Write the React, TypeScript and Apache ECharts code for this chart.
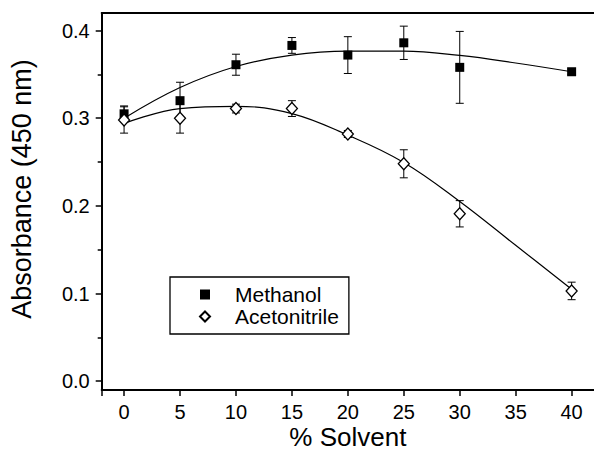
import React, { useEffect, useRef } from "react";
import * as echarts from "echarts";

const X_PTS = [0, 5, 10, 15, 20, 25, 30, 40];
const METHANOL = [0.305, 0.32, 0.361, 0.383, 0.372, 0.386, 0.358, 0.353];
const METHANOL_ERR = [0.009, 0.021, 0.012, 0.009, 0.021, 0.019, 0.041, 0.003];
const ACETONITRILE = [0.298, 0.3, 0.311, 0.311, 0.282, 0.248, 0.191, 0.103];
const ACETONITRILE_ERR = [0.015, 0.017, 0.005, 0.009, 0.004, 0.016, 0.015, 0.01];

const X_FIT = [0, 5, 10, 15, 20, 25, 30, 35, 40];
const METHANOL_FIT = [0.3, 0.335, 0.359, 0.372, 0.3765, 0.3765, 0.3716, 0.363, 0.353];
const ACETONITRILE_FIT = [0.294, 0.311, 0.3136, 0.3053, 0.2807, 0.2495, 0.205, 0.155, 0.105];

const X_TICKS = [0, 5, 10, 15, 20, 25, 30, 35, 40];
const X_TICK_MARKS = [-2, 0, 5, 10, 15, 20, 25, 30, 35, 40];
const Y_TICKS = [0, 0.1, 0.2, 0.3, 0.4];
const Y_MINOR = [0.05, 0.15, 0.25, 0.35];

const FONT = "'Liberation Sans', Arial, sans-serif";

function errorBars(vals: number[], errs: number[]) {
  return X_PTS.map((x, i) => [x, vals[i] - errs[i], vals[i] + errs[i]]);
}

function renderErr(_params: any, api: any) {
  const x = api.value(0);
  const lo = api.coord([x, api.value(1)]);
  const hi = api.coord([x, api.value(2)]);
  const w = 4;
  const style = { stroke: "#000", lineWidth: 1 };
  return {
    type: "group",
    children: [
      { type: "line", shape: { x1: lo[0], y1: lo[1], x2: hi[0], y2: hi[1] }, style },
      { type: "line", shape: { x1: lo[0] - w, y1: lo[1], x2: lo[0] + w, y2: lo[1] }, style },
      { type: "line", shape: { x1: hi[0] - w, y1: hi[1], x2: hi[0] + w, y2: hi[1] }, style },
    ],
  };
}

export default function App() {
  const ref = useRef<HTMLDivElement>(null);
  useEffect(() => {
    document.body.style.margin = "0";
    const chart = echarts.init(ref.current!, undefined, { renderer: "svg" });
    const axisLineStyle = { color: "#000", width: 2 };
    chart.setOption({
      animation: false,
      backgroundColor: "#fff",
      textStyle: { fontFamily: FONT, color: "#000" },
      grid: { left: 101.7, right: 0, top: 13, bottom: 63, containLabel: false, outerBoundsMode: "none" },
      legend: {
        data: ["Methanol", "Acetonitrile"],
        orient: "vertical",
        left: 170,
        top: 277,
        padding: [7, 10, 7, 29],
        itemWidth: 10,
        itemHeight: 10,
        itemGap: 1,
        borderColor: "#000",
        borderWidth: 1.3,
        borderRadius: 0,
        textStyle: { fontSize: 21, fontFamily: FONT, color: "#000", lineHeight: 21, padding: [0, 0, 0, 20] },
      },
      xAxis: [
        {
          type: "value",
          min: -2,
          max: 42,
          position: "bottom",
          axisLine: { show: true, onZero: false, lineStyle: axisLineStyle },
          axisTick: { show: true, customValues: X_TICK_MARKS, length: 6, lineStyle: { color: "#000", width: 1.5 } },
          axisLabel: { customValues: X_TICKS, fontSize: 20, color: "#000", margin: 12, fontFamily: FONT },
          splitLine: { show: false },
          name: "% Solvent",
          nameLocation: "middle",
          nameGap: 36,
          nameMoveOverlap: false,
          nameTextStyle: { fontSize: 26, lineHeight: 22, color: "#000", fontFamily: FONT },
        },
        {
          type: "value",
          min: -2,
          max: 42,
          position: "top",
          axisLine: { show: true, onZero: false, lineStyle: axisLineStyle },
          axisTick: { show: false },
          axisLabel: { show: false },
          splitLine: { show: false },
        },
      ],
      yAxis: [
        {
          type: "value",
          min: -0.01,
          max: 0.42,
          position: "left",
          axisLine: { show: true, onZero: false, lineStyle: axisLineStyle },
          axisTick: { show: true, customValues: Y_TICKS, length: 6, lineStyle: { color: "#000", width: 1.5 } },
          axisLabel: {
            customValues: Y_TICKS,
            fontSize: 20,
            color: "#000",
            margin: 12,
            fontFamily: FONT,
            formatter: (v: number) => v.toFixed(1),
          },
          splitLine: { show: false },
          name: "Absorbance (450 nm)",
          nameLocation: "middle",
          nameGap: 66,
          nameMoveOverlap: false,
          nameTextStyle: { fontSize: 27, color: "#000", fontFamily: FONT, padding: [0, 0, 0, 25] },
        },
        {
          type: "value",
          min: -0.01,
          max: 0.42,
          position: "left",
          axisLine: { show: false, onZero: false },
          axisTick: { show: true, customValues: Y_MINOR, length: 4, lineStyle: { color: "#000", width: 1.5 } },
          axisLabel: { show: false },
          splitLine: { show: false },
        },
      ],
      series: [
        {
          name: "Methanol fit",
          type: "line",
          data: X_FIT.map((x, i) => [x, METHANOL_FIT[i]]),
          showSymbol: false,
          smooth: 0.4,
          lineStyle: { color: "#000", width: 1.2 },
          z: 1,
        },
        {
          name: "Acetonitrile fit",
          type: "line",
          data: X_FIT.map((x, i) => [x, ACETONITRILE_FIT[i]]),
          showSymbol: false,
          smooth: 0.4,
          lineStyle: { color: "#000", width: 1.2 },
          z: 1,
        },
        {
          name: "Methanol err",
          type: "custom",
          renderItem: renderErr,
          data: errorBars(METHANOL, METHANOL_ERR),
          encode: { x: 0, y: [1, 2] },
          z: 2,
        },
        {
          name: "Acetonitrile err",
          type: "custom",
          renderItem: renderErr,
          data: errorBars(ACETONITRILE, ACETONITRILE_ERR),
          encode: { x: 0, y: [1, 2] },
          z: 2,
        },
        {
          name: "Methanol",
          type: "scatter",
          data: X_PTS.map((x, i) => [x, METHANOL[i]]),
          symbol: "rect",
          symbolSize: 9,
          itemStyle: { color: "#000", opacity: 1 },
          z: 3,
        },
        {
          name: "Acetonitrile",
          type: "scatter",
          data: X_PTS.map((x, i) => [x, ACETONITRILE[i]]),
          symbol: "diamond",
          symbolSize: [11, 12],
          itemStyle: { color: "#fff", borderColor: "#000", borderWidth: 1.3, opacity: 1 },
          z: 4,
        },
      ],
    });
    return () => chart.dispose();
  }, []);
  return <div ref={ref} style={{ width: 594, height: 453 }} />;
}
